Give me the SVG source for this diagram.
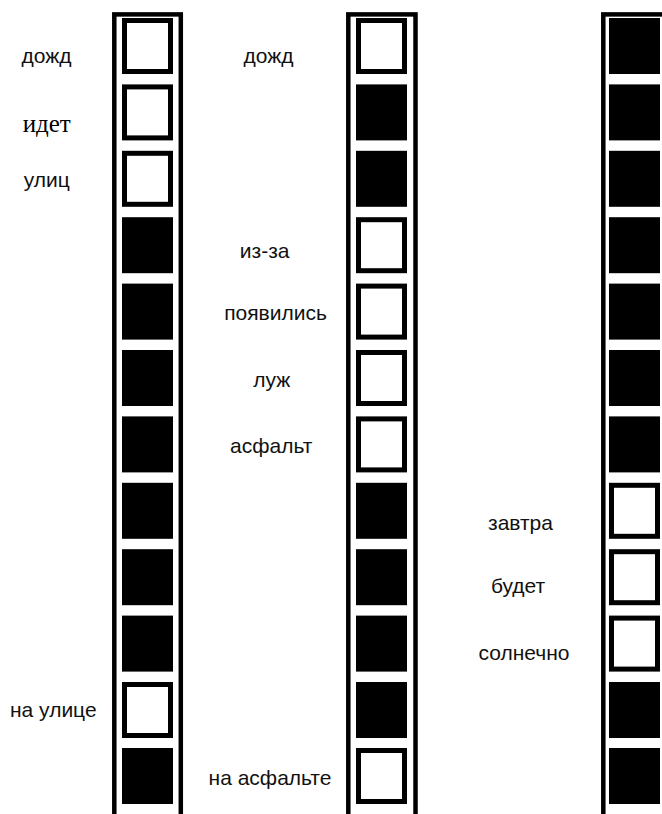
<svg xmlns="http://www.w3.org/2000/svg" width="662" height="814" viewBox="0 0 662 814">
<style>
.frame{fill:none;stroke:#000;stroke-width:4.5}
.w{fill:#fff;stroke:#000;stroke-width:5}
.b{fill:#000}
.t{font-family:"Liberation Sans","Open Sans",sans-serif;font-size:21px;fill:#111;text-anchor:middle}
.s{font-family:"Liberation Serif",serif;font-size:25px;fill:#000;text-anchor:middle}
</style>
<rect width="662" height="814" fill="#fff"/>
<defs>
<rect id="cw" x="2.5" y="2.5" width="46" height="51" class="w"/>
<rect id="cb" x="0" y="0" width="51" height="56" class="b"/>
</defs>
<g id="column1">
<rect class="frame" x="114.3" y="14.4" width="66.5" height="802"/>
<g id="c1r1" transform="translate(122,18)"><use href="#cw"/></g>
<g id="c1r2" transform="translate(122,84.4)"><use href="#cw"/></g>
<g id="c1r3" transform="translate(122,150.8)"><use href="#cw"/></g>
<g id="c1r4" transform="translate(122,217.2)"><use href="#cb"/></g>
<g id="c1r5" transform="translate(122,283.6)"><use href="#cb"/></g>
<g id="c1r6" transform="translate(122,350)"><use href="#cb"/></g>
<g id="c1r7" transform="translate(122,416.4)"><use href="#cb"/></g>
<g id="c1r8" transform="translate(122,482.8)"><use href="#cb"/></g>
<g id="c1r9" transform="translate(122,549.2)"><use href="#cb"/></g>
<g id="c1r10" transform="translate(122,615.6)"><use href="#cb"/></g>
<g id="c1r11" transform="translate(122,682)"><use href="#cw"/></g>
<g id="c1r12" transform="translate(122,748)"><use href="#cb"/></g>
</g>
<g id="column2">
<rect class="frame" x="348.3" y="14.4" width="67.2" height="802"/>
<g id="c2r1" transform="translate(356,18)"><use href="#cw"/></g>
<g id="c2r2" transform="translate(356,84.4)"><use href="#cb"/></g>
<g id="c2r3" transform="translate(356,150.8)"><use href="#cb"/></g>
<g id="c2r4" transform="translate(356,217.2)"><use href="#cw"/></g>
<g id="c2r5" transform="translate(356,283.6)"><use href="#cw"/></g>
<g id="c2r6" transform="translate(356,350)"><use href="#cw"/></g>
<g id="c2r7" transform="translate(356,416.4)"><use href="#cw"/></g>
<g id="c2r8" transform="translate(356,482.8)"><use href="#cb"/></g>
<g id="c2r9" transform="translate(356,549.2)"><use href="#cb"/></g>
<g id="c2r10" transform="translate(356,615.6)"><use href="#cb"/></g>
<g id="c2r11" transform="translate(356,682)"><use href="#cb"/></g>
<g id="c2r12" transform="translate(356,748)"><use href="#cw"/></g>
</g>
<g id="column3">
<rect class="frame" x="603.3" y="14.4" width="67" height="802"/>
<g id="c3r1" transform="translate(609,18)"><use href="#cb"/></g>
<g id="c3r2" transform="translate(609,84.4)"><use href="#cb"/></g>
<g id="c3r3" transform="translate(609,150.8)"><use href="#cb"/></g>
<g id="c3r4" transform="translate(609,217.2)"><use href="#cb"/></g>
<g id="c3r5" transform="translate(609,283.6)"><use href="#cb"/></g>
<g id="c3r6" transform="translate(609,350)"><use href="#cb"/></g>
<g id="c3r7" transform="translate(609,416.4)"><use href="#cb"/></g>
<g id="c3r8" transform="translate(609,482.8)"><use href="#cw"/></g>
<g id="c3r9" transform="translate(609,549.2)"><use href="#cw"/></g>
<g id="c3r10" transform="translate(609,615.6)"><use href="#cw"/></g>
<g id="c3r11" transform="translate(609,682)"><use href="#cb"/></g>
<g id="c3r12" transform="translate(609,748)"><use href="#cb"/></g>
</g>
<g id="labels">
<text class="t" x="46.5" y="63">дожд</text>
<text class="s" x="46.7" y="131.5">идет</text>
<text class="t" x="46.7" y="186.5">улиц</text>
<text class="t" x="53.3" y="717">на улице</text>
<text class="t" x="268.5" y="63">дожд</text>
<text class="t" x="264.7" y="258">из-за</text>
<text class="t" x="275.5" y="320">появились</text>
<text class="t" x="271.7" y="386.5">луж</text>
<text class="t" x="271.2" y="453">асфальт</text>
<text class="t" x="270" y="785">на асфальте</text>
<text class="t" x="520.5" y="529.5">завтра</text>
<text class="t" x="518" y="593">будет</text>
<text class="t" x="524" y="660">солнечно</text>
</g>
<g id="connectors"/>
</svg>
